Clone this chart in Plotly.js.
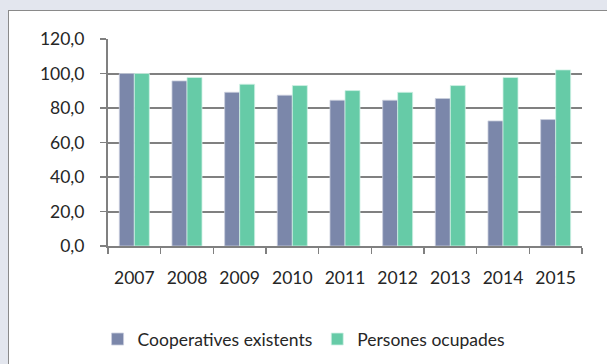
<!DOCTYPE html>
<html>
<head>
<meta charset="utf-8">
<script src="https://cdn.plot.ly/plotly-3.0.1.min.js"></script>
<style>
  html, body { margin: 0; padding: 0; background: #e3e6ee; overflow: hidden; }
  #frame { position: absolute; left: 8px; top: 10px; width: 610px; height: 360px; border: 1px solid #8a8a8a; background: #ffffff; }
  #chart { width: 610px; height: 360px; }
</style>
</head>
<body>
<div id="frame"><div id="chart"></div></div>
<script>
const years = ["2007", "2008", "2009", "2010", "2011", "2012", "2013", "2014", "2015"];
const cooperatives = [100.0, 95.7, 89.1, 87.4, 84.5, 84.5, 85.5, 72.5, 73.3];
const persones = [100.0, 97.7, 93.8, 93.0, 90.1, 89.1, 93.0, 97.7, 102.1];
const seriesNames = ["Cooperatives existents", "Persones ocupades"];
const yTicks = [0, 20, 40, 60, 80, 100, 120];

const fontFam = "Lato, 'Open Sans', sans-serif";
const traces = [
  { type: "bar", x: years, y: cooperatives, name: seriesNames[0],
    marker: { color: "#7b87aa", line: { color: "#c9cedd", width: 0.8 } } },
  { type: "bar", x: years, y: persones, name: seriesNames[1],
    marker: { color: "#66cba7", line: { color: "#d2f1e6", width: 0.8 } } }
];
const layout = {
  width: 610, height: 360,
  margin: { l: 99, r: 37, t: 28, b: 125 },
  paper_bgcolor: "rgba(0,0,0,0)", plot_bgcolor: "#ffffff",
  separators: ",.",
  barmode: "group", bargap: 0.43, bargroupgap: 0,
  font: { family: fontFam, size: 17, color: "#262626" },
  showlegend: true,
  legend: { orientation: "h", x: -0.022, xanchor: "left", y: -0.45, yanchor: "middle",
            font: { family: fontFam, size: 17.5, color: "#262626" }, itemwidth: 30, tracegroupgap: 0 },
  xaxis: { type: "category", tickson: "boundaries", ticks: "outside", ticklen: 6, tickcolor: "#808080",
           tickwidth: 1.5,
           showline: true, linecolor: "#808080", linewidth: 2, showgrid: false,
           ticklabelstandoff: 15, tickfont: { size: 17.5 } },
  yaxis: { range: [0, 120], tickvals: yTicks, tickformat: ".1f", ticks: "outside", ticklen: 6,
           tickcolor: "#808080", tickwidth: 1.5, showline: true, linecolor: "#808080", linewidth: 2,
           showgrid: true, gridcolor: "#808080", gridwidth: 2, zeroline: false,
           ticklabelstandoff: 12, tickfont: { size: 17.5 } }
};
Plotly.newPlot("chart", traces, layout, { displayModeBar: false, staticPlot: true });
</script>
</body>
</html>
